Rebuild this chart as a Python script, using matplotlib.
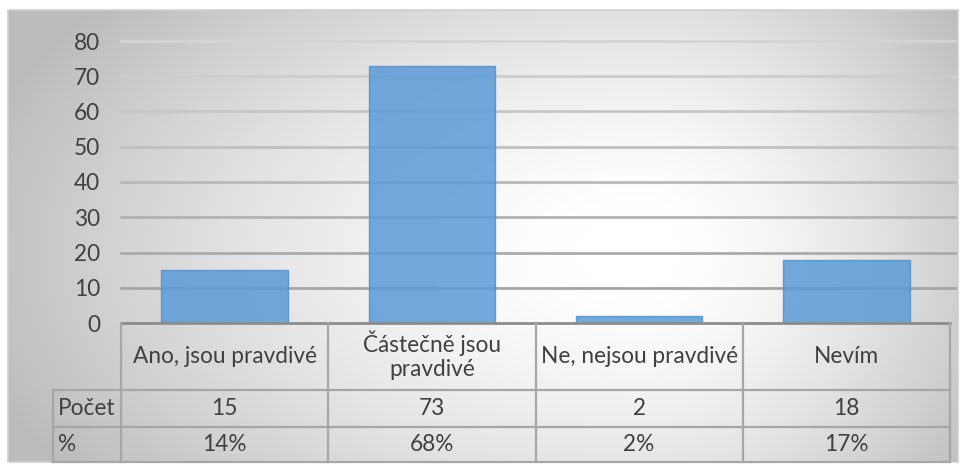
import numpy as np
import matplotlib.pyplot as plt
from matplotlib.patches import Rectangle

# data
categories = ["Ano, jsou pravdivé", "Částečně jsou\npravdivé", "Ne, nejsou pravdivé", "Nevím"]
counts = [15, 73, 2, 18]
percents = ["14%", "68%", "2%", "17%"]
row_labels = ["Počet", "%"]
yticks = [0, 10, 20, 30, 40, 50, 60, 70, 80]

W, H = 966, 470
plt.rcParams['font.family'] = ['Lato', 'DejaVu Sans']
txt_color = '#404040'
fs = 16.3

fig = plt.figure(figsize=(W / 100, H / 100), dpi=100)


def fx(px):
    return px / W


def fy(py):
    return 1 - py / H


# background with a radial gradient inside the chart border
bg = fig.add_axes([0, 0, 1, 1], zorder=0)
bg.set_xlim(0, W)
bg.set_ylim(H, 0)
bg.axis('off')
xx, yy = np.meshgrid(np.arange(W), np.arange(H))
dx = xx - 640.0
rx = np.where(dx > 0, 370.0, 630.0)
r = np.sqrt((dx / rx) ** 2 + ((yy - 250) / 360.0) ** 2)
val = 1 - 0.23 * np.clip((r - 0.1) / 0.9, 0, 1.1) ** 1.4
img = bg.imshow(np.dstack([val, val, val]).clip(0, 1), extent=(0, W, H, 0), aspect='auto')
border = Rectangle((8, 10), 950, 452, fill=False, edgecolor='#d0d0d0', lw=1.2)
bg.add_patch(border)
img.set_clip_path(border)

# main bar axes
x0, x1 = 121, 950
ytop, ybot = 41, 323
ax = fig.add_axes([fx(x0), fy(ybot), fx(x1 - x0), (ybot - ytop) / H], zorder=2)
ax.patch.set_alpha(0)
ax.set_xlim(0, len(categories))
ax.set_ylim(0, 80)
for s in ax.spines.values():
    s.set_visible(False)
ax.set_xticks([])
ax.set_yticks(yticks)
ax.set_yticklabels([str(t) for t in yticks], fontsize=fs, color=txt_color)
ax.tick_params(axis='y', length=0, pad=15)

for t in yticks[1:]:
    c = 0.83 - 0.21 * (1 - t / 80)
    ax.axhline(t, xmin=0, xmax=1.006, color=(c, c, c), lw=2, zorder=1, clip_on=False)

xpos = np.arange(len(categories)) + 0.5
ax.bar(xpos, counts, width=0.61, color='#5b9bd5', alpha=0.85,
       edgecolor='#4f8fcf', lw=1, zorder=2)

# data table under the chart
tb = fig.add_axes([0, 0, 1, 1], zorder=3)
tb.set_xlim(0, W)
tb.set_ylim(H, 0)
tb.axis('off')
col_edges = np.linspace(x0, x1, len(categories) + 1)
lab_x = 53
row_edges = [323, 390, 427, 462]
lc = '#a6a6a6'

tb.plot([x0, x1], [row_edges[0], row_edges[0]], color='#8c8c8c', lw=2)
for xe in col_edges:
    tb.plot([xe, xe], [row_edges[0], row_edges[-1]], color=lc, lw=1.6)
tb.plot([lab_x, lab_x], [row_edges[1], row_edges[-1]], color=lc, lw=1.6)
for ye in row_edges[1:]:
    tb.plot([lab_x, x1], [ye, ye], color=lc, lw=1.6)

line_h = 26
for i, cat in enumerate(categories):
    cx = (col_edges[i] + col_edges[i + 1]) / 2
    cy = (row_edges[0] + row_edges[1]) / 2
    lines = cat.split('\n')
    for k, ln in enumerate(lines):
        off = (k - (len(lines) - 1) / 2) * line_h
        tb.text(cx, cy + off, ln, ha='center', va='center', fontsize=fs, color=txt_color)
    tb.text(cx, (row_edges[1] + row_edges[2]) / 2, str(counts[i]), ha='center',
            va='center', fontsize=fs, color=txt_color)
    tb.text(cx, (row_edges[2] + row_edges[3]) / 2, percents[i], ha='center',
            va='center', fontsize=fs, color=txt_color)

for j, lab in enumerate(row_labels):
    tb.text(lab_x + 5, (row_edges[j + 1] + row_edges[j + 2]) / 2, lab, ha='left',
            va='center', fontsize=fs, color=txt_color)

fig.savefig('out.png', dpi=100)
